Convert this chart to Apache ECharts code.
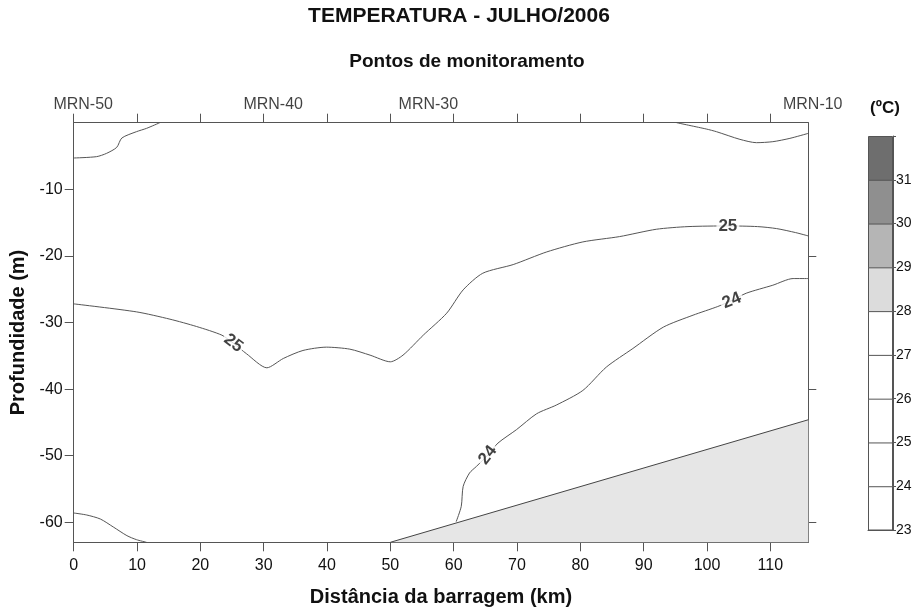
<!DOCTYPE html>
<html>
<head>
<meta charset="utf-8">
<script src="https://cdn.jsdelivr.net/npm/echarts@6/dist/echarts.min.js"></script>
<style>
  html, body { margin: 0; padding: 0; background: #fff; }
  #chart { width: 916px; height: 612px; }
</style>
</head>
<body>
<div id="chart"></div>
<script>
const FONT = '"Liberation Sans", Arial, Helvetica, sans-serif';

// Monitoring stations along the reservoir (km from the dam)
const stationNames = ['MRN-50', 'MRN-40', 'MRN-30', 'MRN-10'];
const stationKm = [1.5, 31.5, 56, 116.7];

// Axis ticks
const distanceTicks = [0, 10, 20, 30, 40, 50, 60, 70, 80, 90, 100, 110];
const depthTicks = [-60, -50, -40, -30, -20, -10];
const depthTicksRight = [-60, -40, -20];

// Reservoir bottom profile [km, m]
const seabed = [[50, -63], [116, -44.6]];

// Isotherms [km, depth m]
const iso26Upstream = [[0, -5.3], [3.6, -5.1], [5.2, -4.6], [6.8, -3.7], [7.6, -2.3], [9.9, -1.35], [11.5, -0.85], [13.6, 0]];
const iso26Dam = [[95.2, 0], [99.9, -0.95], [101.5, -1.35], [105.2, -2.5], [107.8, -3.0], [110.4, -2.85], [113.1, -2.35], [116, -1.6]];
const iso24Upstream = [[0, -58.6], [2.05, -58.9], [4.2, -59.5], [6.25, -60.7], [8.4, -62], [9.9, -62.6], [11.5, -63]];
const iso25 = [[0, -27.2], [9.9, -28.4], [15.2, -29.5], [19.4, -30.6], [23.4, -31.9], [25.2, -33.1], [27.3, -34.7],
  [30.5, -36.8], [33.1, -35.4], [36.2, -34.2], [39.9, -33.7], [43.6, -34.0], [46.8, -34.9], [50.0, -35.9],
  [52.0, -34.9], [55.2, -31.9], [58.9, -28.6], [61.5, -25.1], [64.6, -22.6], [69.4, -21.3], [74.7, -19.4],
  [80.4, -17.9], [86.2, -17.1], [92, -16.0], [97, -15.6], [103.3, -15.5], [108, -15.6], [111, -15.9],
  [114, -16.5], [116, -17.0]];
const iso24 = [[60.4, -59.9], [61.2, -57.6], [61.5, -54.6], [62.5, -52.6], [63.6, -51.6], [65.4, -49.9],
  [67.0, -48.1], [69.9, -46.1], [73.1, -43.7], [76.2, -42.4], [80.4, -40.2], [84.1, -36.7], [88.3, -33.9],
  [93.1, -30.7], [97.8, -28.9], [101.7, -27.6], [103.9, -26.7], [106.2, -25.6], [110.4, -24.4],
  [113.6, -23.4], [116, -23.4]];

// Isotherm labels
const isoLabelText = ['25', '25', '24', '24'];
const isoLabelKm = [25.2, 103.3, 65.4, 103.9];
const isoLabelDepth = [-33.1, -15.5, -49.9, -26.7];
const isoLabelAngle = [-37, 0, 52, 22];

// Temperature scale (ºC)
const scaleBreaks = [23, 24, 25, 26, 27, 28, 29, 30, 31, 32];
const scaleColors = ['#ffffff', '#ffffff', '#ffffff', '#ffffff', '#ffffff', '#dcdcdc', '#b5b5b5', '#8f8f8f', '#6e6e6e'];

const LINE = '#555';
const TXT = '#111';

function isotherm(data) {
  return {
    type: 'line', xAxisIndex: 0, yAxisIndex: 0, data: data,
    smooth: 0.25, symbol: 'none', silent: true, z: 3,
    lineStyle: { color: LINE, width: 1 }
  };
}

const labelItems = isoLabelText.map((t, i) => ({
  value: [isoLabelKm[i], isoLabelDepth[i]],
  label: { formatter: t, rotate: isoLabelAngle[i] }
}));

const stationItems = stationNames.map((n, i) => ({
  value: [stationKm[i], 0],
  label: { formatter: n }
}));

// Scale bands: drawn from the top band down, overlapping bars so each visible part is one band
const scaleSeries = [];
for (let i = scaleColors.length - 1; i >= 0; i--) {
  scaleSeries.push({
    type: 'bar', xAxisIndex: 2, yAxisIndex: 2,
    data: [scaleBreaks[i + 1]],
    barWidth: '100%', barGap: '-100%', silent: true,
    itemStyle: { color: scaleColors[i], borderColor: LINE, borderWidth: 1 }
  });
}

const axisLineStyle = { show: true, onZero: false, lineStyle: { color: LINE, width: 1 } };

const option = {
  animation: false,
  backgroundColor: '#fff',
  textStyle: { fontFamily: FONT },
  grid: [
    { left: 73.7, top: 122.7, right: 107.7, bottom: 69.7, containLabel: false, outerBoundsMode: 'none' },
    { left: 868, top: 136, width: 25, height: 394, containLabel: false, outerBoundsMode: 'none' }
  ],
  xAxis: [
    {
      gridIndex: 0, type: 'value', min: 0, max: 116, position: 'bottom',
      axisLine: axisLineStyle,
      axisTick: { show: true, inside: false, customValues: distanceTicks, length: 9, lineStyle: { color: LINE } },
      axisLabel: { customValues: distanceTicks, fontSize: 16, color: TXT, margin: 15, fontFamily: FONT },
      splitLine: { show: false },
      name: 'Distância da barragem (km)', nameLocation: 'middle', nameGap: 45,
      nameTextStyle: { fontSize: 20, fontWeight: 'bold', color: '#111', fontFamily: FONT }
    },
    {
      gridIndex: 0, type: 'value', min: 0, max: 116, position: 'top',
      axisLine: axisLineStyle,
      axisTick: { show: true, inside: false, customValues: distanceTicks, length: 9, lineStyle: { color: LINE } },
      axisLabel: { show: false },
      splitLine: { show: false }
    },
    {
      gridIndex: 1, type: 'category', data: ['ºC'],
      axisLine: { show: true, onZero: false, lineStyle: { color: LINE } },
      axisTick: { show: false }, axisLabel: { show: false }
    }
  ],
  yAxis: [
    {
      gridIndex: 0, type: 'value', min: -63, max: 0, position: 'left',
      axisLine: axisLineStyle,
      axisTick: { show: true, inside: false, customValues: depthTicks, length: 9, lineStyle: { color: LINE } },
      axisLabel: { customValues: depthTicks, fontSize: 16, color: TXT, margin: 11, fontFamily: FONT },
      splitLine: { show: false },
      name: 'Profundidade (m)', nameLocation: 'middle', nameGap: 42, nameRotate: 90,
      nameTextStyle: { fontSize: 20, fontWeight: 'bold', color: '#111', fontFamily: FONT }
    },
    {
      gridIndex: 0, type: 'value', min: -63, max: 0, position: 'right',
      axisLine: axisLineStyle,
      axisTick: { show: true, inside: false, customValues: depthTicksRight, length: 8, lineStyle: { color: LINE } },
      axisLabel: { show: false },
      splitLine: { show: false }
    },
    {
      gridIndex: 1, type: 'value', min: 23, max: 32, interval: 1, position: 'right',
      axisLine: { show: true, onZero: false, lineStyle: { color: LINE } },
      axisTick: { show: true, length: 3, lineStyle: { color: LINE } },
      axisLabel: {
        fontSize: 14, color: TXT, margin: 3, fontFamily: FONT,
        formatter: v => (v === 32 ? '' : String(v))
      },
      splitLine: { show: false }
    }
  ],
  graphic: [
    { type: 'text', x: 459, y: 16, style: { text: 'TEMPERATURA - JULHO/2006', font: 'bold 21px ' + FONT, fill: '#111', align: 'center', verticalAlign: 'middle' } },
    { type: 'text', x: 467, y: 62, style: { text: 'Pontos de monitoramento', font: 'bold 19px ' + FONT, fill: '#111', align: 'center', verticalAlign: 'middle' } },
    { type: 'text', x: 885, y: 108, style: { text: '(ºC)', font: 'bold 17px ' + FONT, fill: '#111', align: 'center', verticalAlign: 'middle' } }
  ],
  series: [
    {
      type: 'line', xAxisIndex: 0, yAxisIndex: 0, data: seabed,
      symbol: 'none', silent: true, z: 2,
      lineStyle: { color: '#444', width: 1 },
      areaStyle: { color: '#e6e6e6', opacity: 1, origin: 'start' }
    },
    isotherm(iso26Upstream),
    isotherm(iso26Dam),
    isotherm(iso24Upstream),
    isotherm(iso25),
    isotherm(iso24),
    {
      type: 'scatter', xAxisIndex: 0, yAxisIndex: 0, data: labelItems,
      symbolSize: 0, silent: true, z: 5,
      label: {
        show: true, position: 'inside', fontSize: 17, fontWeight: 'bold', color: '#111',
        fontFamily: FONT, backgroundColor: '#fff', padding: [0, 2]
      }
    },
    {
      type: 'scatter', xAxisIndex: 1, yAxisIndex: 0, data: stationItems,
      symbolSize: 0, silent: true, clip: false, z: 5,
      label: { show: true, position: 'top', distance: 10, fontSize: 16, color: TXT, fontFamily: FONT }
    }
  ].concat(scaleSeries)
};

const chart = echarts.init(document.getElementById('chart'), null, { renderer: 'canvas' });
chart.setOption(option);
</script>
</body>
</html>
